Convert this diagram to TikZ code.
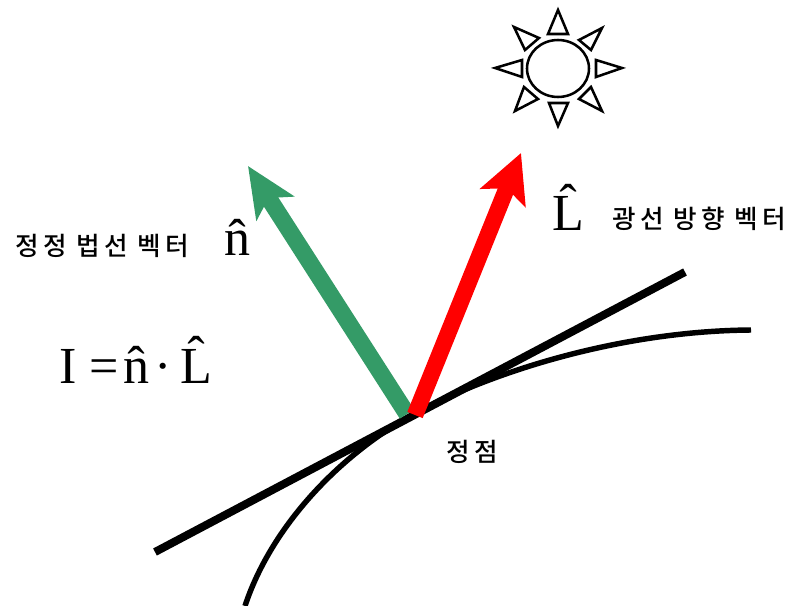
\documentclass[tikz,border=0pt]{standalone}
\usepackage{fontspec}
\setmainfont{Liberation Serif}
\newfontfamily\kofont[LetterSpace=16]{Noto Sans CJK KR Medium}
\usetikzlibrary{arrows.meta,positioning,shapes.geometric}
\definecolor{normalgreen}{RGB}{52,155,103}

\begin{document}
\begin{tikzpicture}[
    x=0.75pt,
    y=-0.75pt,
    symbol/.style={inner sep=0pt, font=\fontsize{39}{42}\selectfont},
    hangul/.style={inner sep=0pt, font=\kofont\fontsize{19.2}{22}\selectfont},
    sunbody/.style={draw, ellipse, line width=1.9pt, minimum width=46.5pt, minimum height=42.75pt, inner sep=0pt},
    sunray/.style={draw, line width=1.9pt, miter limit=10},
    surface/.style={line width=4.1pt},
    tangent/.style={line width=6pt},
    normalarrow/.style={-{Stealth[length=37.5pt,width=33pt,inset=9pt]}, line width=12.8pt, normalgreen},
    lightarrow/.style={-{Stealth[length=36pt,width=36pt,inset=7.5pt]}, line width=12.4pt, red}
]
\useasboundingbox (0,0) rectangle (790,606);

\coordinate (vertex) at (412,415);
\coordinate (tangentstart) at (155,552);
\coordinate (tangentend) at (685,272);
\coordinate (curvestart) at (245,606);
\coordinate (curveend) at (751,330);
\coordinate (nbase) at (407,414);
\coordinate (ntip) at (248,166);
\coordinate (lbase) at (415,415);
\coordinate (ltip) at (521,153);

\node[sunbody] (sun) at (558,68.5) {};
\foreach \ax/\ay/\bx/\by/\cx/\cy in {
    558/10/548/34/568/34,
    622/68/596/60/596/77,
    558/126/549/103/568/103,
    495/68/522/60/522/77,
    602/28/579/40/591/50,
    514/27/539/38/525/50,
    515/111/524/87/538/99,
    602/111/591/87/579/99}
    \draw[sunray] (\ax,\ay) -- (\bx,\by) -- (\cx,\cy) -- cycle;

\draw[surface] (curvestart) .. controls (270,530) and (335,458) .. (vertex)
    .. controls (490,372) and (620,331) .. (curveend);
\draw[tangent] (tangentstart) -- (tangentend);
\draw[normalarrow] (nbase) -- (ntip);
\draw[lightarrow] (lbase) -- (ltip);

\node[symbol, anchor=base west] (nhat) at (224,256) {\^{n}};
\node[symbol, anchor=base west] (lhat) at (552,231) {\^{L}};
\node[symbol, anchor=base west] (formula) at (59,383) {I =\kern3.5pt\^{n}\kern4pt·\kern6pt\^{L}};

\node[hangul, base left=26pt of nhat.base west] (normallabel) {정정 법선 벡터};
\node[hangul, base right=21pt of lhat.base east, yshift=1.5pt] (lightlabel) {광선 방향 벡터};
\node[hangul, anchor=base] (vertexlabel) at (472,461) {정점};
\end{tikzpicture}
\end{document}
